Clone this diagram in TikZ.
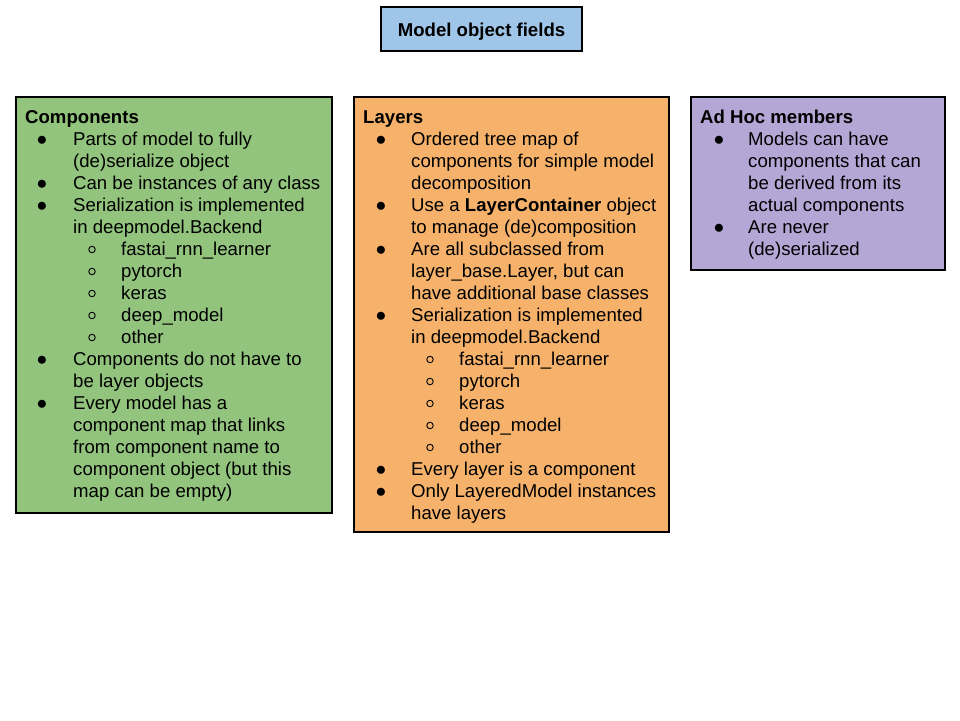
\documentclass[tikz,border=0pt]{standalone}
\usepackage{fontspec}
\setmainfont{Liberation Sans}
\begin{document}
\begin{tikzpicture}[x=1pt,y=-1pt,
  box/.style={draw=black,line width=2pt,anchor=north west,inner sep=0pt},
  txt/.style={anchor=base west,inner sep=0pt,font=\fontsize{18.6}{22}\selectfont},
  bul/.style={anchor=base,inner sep=0pt,font=\fontsize{18.6}{22}\selectfont},
  sub/.style={circle,draw=black,line width=0.9pt,inner sep=0pt,minimum size=6.5pt,yshift=5.5pt}]
\definecolor{cgreen}{HTML}{93C47D}
\definecolor{corange}{HTML}{F6B26B}
\definecolor{cpurple}{HTML}{B4A7D6}
\definecolor{cblue}{HTML}{9FC5E8}
\useasboundingbox[fill=white] (0,0) rectangle (960,720);
% title
\node[box,fill=cblue,anchor=center,minimum width=201pt,minimum height=44pt] (title) at (481.5,29) {};
\node[bul,font=\fontsize{18.6}{22}\selectfont\bfseries] (titletext) at (481.5,36) {Model object fields};
% boxes
\node[box,fill=cgreen,minimum width=316pt,minimum height=416pt] (comp) at (15,96) {};
\node[box,fill=corange,minimum width=315pt,minimum height=435pt] (lay) at (353,96) {};
\node[box,fill=cpurple,minimum width=254pt,minimum height=173pt] (adhoc) at (690,96) {};
% Components
\node[txt,font=\fontsize{18.6}{22}\selectfont\bfseries] (c0) at (25,123) {Components};
\node[bul] (cb1) at (42,145) {●};
\node[txt] (c1) at (73,145) {Parts of model to fully};
\node[txt] (c2) at (73,167) {(de)serialize object};
\node[bul] (cb3) at (42,189) {●};
\node[txt] (c3) at (73,189) {Can be instances of any class};
\node[bul] (cb4) at (42,211) {●};
\node[txt] (c4) at (73,211) {Serialization is implemented};
\node[txt] (c5) at (73,233) {in deepmodel.Backend};
\node[sub] (cs6) at (92,255) {};
\node[txt] (c6) at (121,255) {fastai\_rnn\_learner};
\node[sub] (cs7) at (92,277) {};
\node[txt] (c7) at (121,277) {pytorch};
\node[sub] (cs8) at (92,299) {};
\node[txt] (c8) at (121,299) {keras};
\node[sub] (cs9) at (92,321) {};
\node[txt] (c9) at (121,321) {deep\_model};
\node[sub] (cs10) at (92,343) {};
\node[txt] (c10) at (121,343) {other};
\node[bul] (cb11) at (42,365) {●};
\node[txt] (c11) at (73,365) {Components do not have to};
\node[txt] (c12) at (73,387) {be layer objects};
\node[bul] (cb13) at (42,409) {●};
\node[txt] (c13) at (73,409) {Every model has a};
\node[txt] (c14) at (73,431) {component map that links};
\node[txt] (c15) at (73,453) {from component name to};
\node[txt] (c16) at (73,475) {component object (but this};
\node[txt] (c17) at (73,497) {map can be empty)};
% Layers
\node[txt,font=\fontsize{18.6}{22}\selectfont\bfseries] (l0) at (363,123) {Layers};
\node[bul] (lb1) at (381,145) {●};
\node[txt] (l1) at (411,145) {Ordered tree map of};
\node[txt] (l2) at (411,167) {components for simple model};
\node[txt] (l3) at (411,189) {decomposition};
\node[bul] (lb4) at (381,211) {●};
\node[txt] (l4) at (411,211) {Use a \textbf{LayerContainer} object};
\node[txt] (l5) at (411,233) {to manage (de)composition};
\node[bul] (lb6) at (381,255) {●};
\node[txt] (l6) at (411,255) {Are all subclassed from};
\node[txt] (l7) at (411,277) {layer\_base.Layer, but can};
\node[txt] (l8) at (411,299) {have additional base classes};
\node[bul] (lb9) at (381,321) {●};
\node[txt] (l9) at (411,321) {Serialization is implemented};
\node[txt] (l10) at (411,343) {in deepmodel.Backend};
\node[sub] (ls11) at (430,365) {};
\node[txt] (l11) at (459,365) {fastai\_rnn\_learner};
\node[sub] (ls12) at (430,387) {};
\node[txt] (l12) at (459,387) {pytorch};
\node[sub] (ls13) at (430,409) {};
\node[txt] (l13) at (459,409) {keras};
\node[sub] (ls14) at (430,431) {};
\node[txt] (l14) at (459,431) {deep\_model};
\node[sub] (ls15) at (430,453) {};
\node[txt] (l15) at (459,453) {other};
\node[bul] (lb16) at (381,475) {●};
\node[txt] (l16) at (411,475) {Every layer is a component};
\node[bul] (lb17) at (381,497) {●};
\node[txt] (l17) at (411,497) {Only LayeredModel instances};
\node[txt] (l18) at (411,519) {have layers};
% Ad Hoc
\node[txt,font=\fontsize{18.6}{22}\selectfont\bfseries] (a0) at (700,123) {Ad Hoc members};
\node[bul] (ab1) at (719,145) {●};
\node[txt] (a1) at (748,145) {Models can have};
\node[txt] (a2) at (748,167) {components that can};
\node[txt] (a3) at (748,189) {be derived from its};
\node[txt] (a4) at (748,211) {actual components};
\node[bul] (ab5) at (719,233) {●};
\node[txt] (a5) at (748,233) {Are never};
\node[txt] (a6) at (748,255) {(de)serialized};
\end{tikzpicture}
\end{document}
